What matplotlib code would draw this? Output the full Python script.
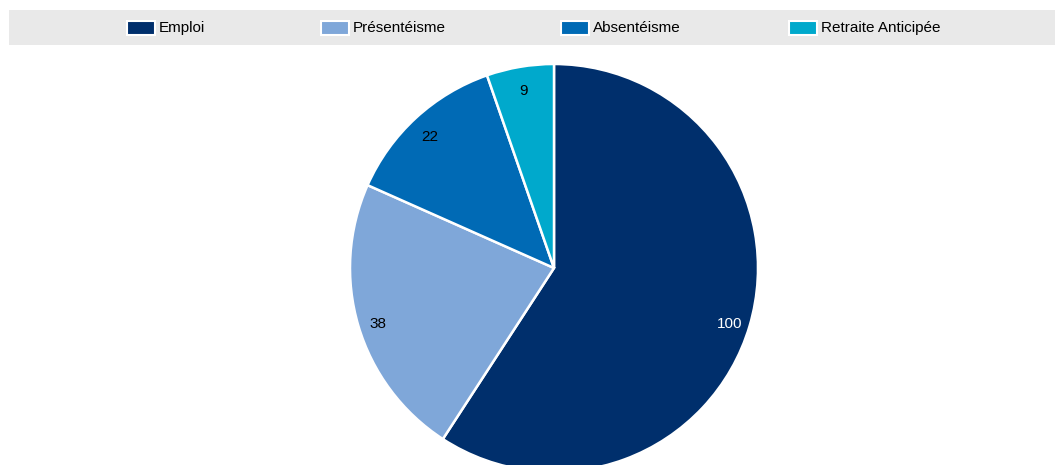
import matplotlib

matplotlib.use("Agg")
import matplotlib.pyplot as plt
import numpy as np
from matplotlib import font_manager
from matplotlib.patches import Rectangle

categories = ["Emploi", "Présentéisme", "Absentéisme", "Retraite Anticipée"]
values = [100, 38, 22, 9]
colors = ["#002f6c", "#7fa7d9", "#006ab5", "#00a9cc"]
label_colors = ["white", "black", "black", "black"]

names = {f.name for f in font_manager.fontManager.ttflist}
FONT = "Liberation Sans Narrow" if "Liberation Sans Narrow" in names else "Liberation Sans"
plt.rcParams.update({"font.family": FONT, "font.size": 11})

W, H = 1055, 465
fig = plt.figure(figsize=(W / 100, H / 100), dpi=100, facecolor="white")

# pie axes sized so the unit circle spans the drawn radius in pixels
cx, cy, R = 554, 268, 204
ax = fig.add_axes([(cx - R) / W, (H - cy - R) / H, 2 * R / W, 2 * R / H])
wedges, _ = ax.pie(values, colors=colors, startangle=90, counterclock=False,
                   radius=1, wedgeprops=dict(edgecolor="white", linewidth=1.8))
for wedge, value, tc in zip(wedges, values, label_colors):
    mid = np.deg2rad((wedge.theta1 + wedge.theta2) / 2)
    r = 0.9
    ax.text(r * np.cos(mid), r * np.sin(mid) - 0.02, f"{value}", ha="center", va="center",
            color=tc, fontsize=11)
ax.set_xlim(-1, 1)
ax.set_ylim(-1, 1)
ax.set_aspect("auto")
ax.set_axis_off()

# legend band across the top
fig.patches.append(Rectangle((9 / W, (H - 45) / H), 1 - 9 / W, 35 / H, transform=fig.transFigure,
                             facecolor="#e9e9e9", edgecolor="none", zorder=0))
patch_x = [127, 321, 561, 789]
ly = 28
for x, name, c in zip(patch_x, categories, colors):
    fig.patches.append(Rectangle((x / W, (H - ly - 7) / H), 28 / W, 14 / H, transform=fig.transFigure,
                                 facecolor=c, edgecolor="white", linewidth=1.5, zorder=1))
    fig.text((x + 32) / W, (H - ly) / H, name, ha="left", va="center", fontsize=11, color="black")

fig.savefig("out.png", dpi=100, facecolor="white")
